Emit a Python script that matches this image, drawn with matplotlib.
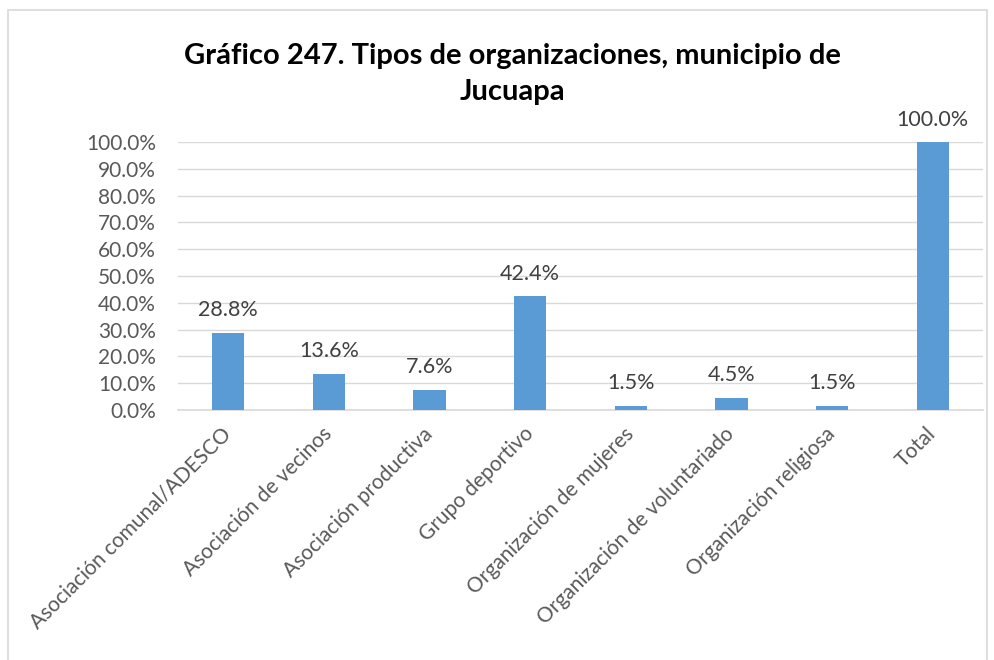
import matplotlib.pyplot as plt
from matplotlib.patches import Rectangle
from matplotlib.ticker import MultipleLocator, FuncFormatter

plt.rcParams['font.family'] = ['Lato', 'DejaVu Sans']

categorias = ["Asociación comunal/ADESCO", "Asociación de vecinos", "Asociación productiva",
              "Grupo deportivo", "Organización de mujeres", "Organización de voluntariado",
              "Organización religiosa", "Total"]
porcentajes = [28.8, 13.6, 7.6, 42.4, 1.5, 4.5, 1.5, 100.0]
titulo = "Gráfico 247. Tipos de organizaciones, municipio de\nJucuapa"

azul = '#5B9BD5'
gris_texto = '#595959'
gris_linea = '#D9D9D9'

fig = plt.figure(figsize=(9.95, 6.6), dpi=100)
ax = fig.add_axes([178 / 995, 1 - 410 / 660, 805 / 995, 268 / 660])

# marco del grafico
fig.patches.append(Rectangle((8 / 995, -0.05), 979 / 995, 1.05 - 10 / 660,
                             transform=fig.transFigure, fill=False,
                             edgecolor=gris_linea, linewidth=1.2))

x = list(range(len(categorias)))
valores = [p / 100 for p in porcentajes]
barras = ax.bar(x, valores, width=0.32, color=azul, zorder=3)

for xi, v, p in zip(x, valores, porcentajes):
    ax.annotate(f"{p:.1f}%", (xi, v), xytext=(0, 9), textcoords='offset points',
                ha='center', va='bottom', fontsize=15.5, color='#404040')

ax.set_xlim(-0.5, len(categorias) - 0.5)
ax.set_ylim(0, 1)
ax.yaxis.set_major_locator(MultipleLocator(0.1))
ax.yaxis.set_major_formatter(FuncFormatter(lambda v, _: f"{v * 100:.1f}%"))
ax.grid(axis='y', color=gris_linea, linewidth=1, zorder=0)

for lado in ['top', 'right', 'left']:
    ax.spines[lado].set_visible(False)
ax.spines['bottom'].set_color(gris_linea)
ax.spines['bottom'].set_linewidth(1.2)

ax.tick_params(axis='both', length=0, labelsize=15, colors=gris_texto)
ax.tick_params(axis='y', pad=16)
ax.tick_params(axis='x', pad=15)
ax.set_xticks(x)
ax.set_xticklabels(categorias, rotation=45, ha='right', va='center', rotation_mode='anchor')

fig.text(512 / 995, 1 - 74 / 660, titulo, ha='center', va='center', fontsize=21,
         fontweight='bold', color='black', linespacing=1.45)

fig.savefig('out.png', dpi=100)
